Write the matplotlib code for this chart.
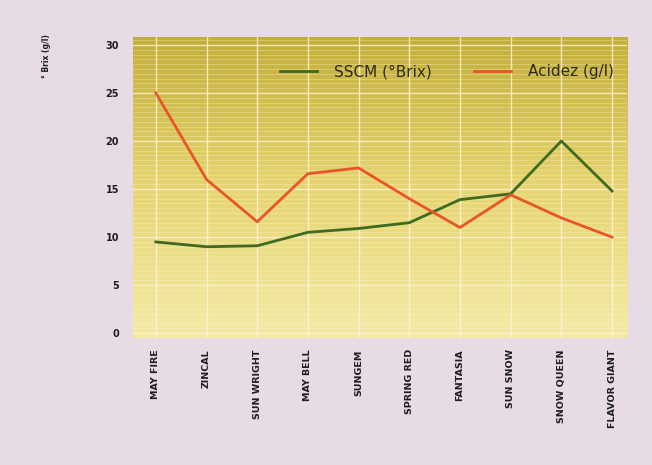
import numpy as np
import matplotlib
matplotlib.use("Agg")
import matplotlib.pyplot as plt
from matplotlib.colors import LinearSegmentedColormap

categories = ["MAY FIRE", "ZINCAL", "SUN WRIGHT", "MAY BELL", "SUNGEM",
              "SPRING RED", "FANTASIA", "SUN SNOW", "SNOW QUEEN", "FLAVOR GIANT"]
sscm = [9.5, 9.0, 9.1, 10.5, 10.9, 11.5, 13.9, 14.5, 20.0, 14.8]
acidez = [25.0, 16.0, 11.6, 16.6, 17.2, 14.0, 11.0, 14.4, 12.0, 10.0]
yticks = [0, 5, 10, 15, 20, 25, 30]

fig = plt.figure(figsize=(6.52, 4.65), dpi=100)
fig.patch.set_facecolor("#e7dbe5")
ax = fig.add_axes([0.204, 0.273, 0.758, 0.647])

x = np.arange(len(categories))
xlim = (-0.45, len(categories) - 1 + 0.3)
ylim = (-0.5, 30.8)

cmap = LinearSegmentedColormap.from_list("bg", ["#f4eaa6", "#e6d572", "#c3ae3a"])
grad = np.linspace(0, 1, 256).reshape(-1, 1)
ax.imshow(grad, cmap=cmap, origin="lower", aspect="auto",
          extent=[xlim[0], xlim[1], ylim[0], ylim[1]], zorder=0)

for v in np.arange(0, 31, 0.5):
    ax.axhline(v, color="#fff6cf", lw=0.5 if v % 5 else 1.0,
               alpha=0.45 if v % 5 else 0.8, zorder=1)
for xi in x:
    ax.axvline(xi, color="#fff6d8", lw=1.0, alpha=0.8, zorder=1)

ax.plot(x, sscm, color="#3e6a22", lw=2.0, label="SSCM (°Brix)", zorder=3)
ax.plot(x, acidez, color="#ea5528", lw=2.0, label="Acidez (g/l)", zorder=3)

ax.set_xlim(xlim)
ax.set_ylim(ylim)
ax.set_xticks(x)
ax.set_xticklabels(categories, rotation=90, fontsize=6.8, fontweight="bold", color="#1e1e1e")
ax.set_yticks(yticks)
ax.set_yticklabels([str(t) for t in yticks], fontsize=7, fontweight="bold", color="#1e1e1e")
ax.tick_params(length=0, pad=10)
ax.tick_params(axis="x", pad=8)
for s in ax.spines.values():
    s.set_visible(False)

fig.text(0.072, 0.88, "° Brix (g/l)", rotation=90, fontsize=5.5, fontweight="bold",
         color="#1e1e1e", ha="center", va="center")

leg = ax.legend(loc="upper right", ncol=2, frameon=False, fontsize=11,
                bbox_to_anchor=(1.0, 0.955), handlelength=2.4, handletextpad=1.1,
                columnspacing=2.8, labelcolor="#2e2a1a")

fig.savefig("out.png", dpi=100, facecolor=fig.get_facecolor())
